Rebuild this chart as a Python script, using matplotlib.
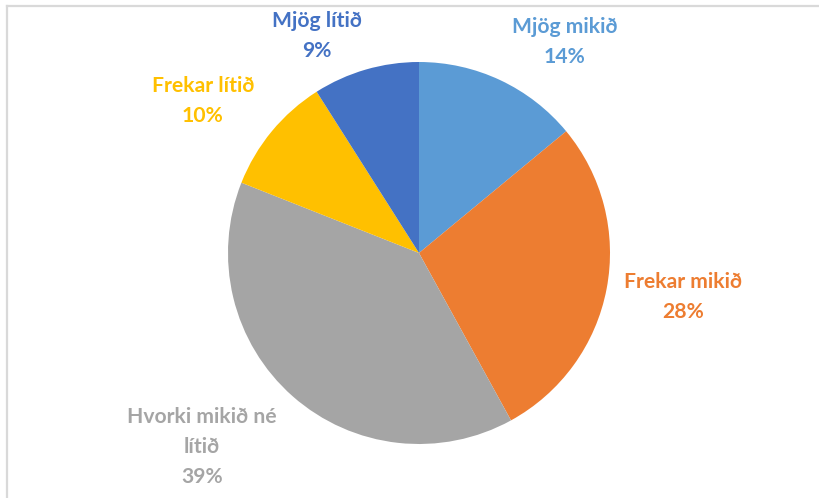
import numpy as np
import matplotlib.pyplot as plt
from matplotlib.lines import Line2D

labels = ["Mjög mikið", "Frekar mikið", "Hvorki mikið né\nlítið", "Frekar lítið", "Mjög lítið"]
values = [14, 28, 39, 10, 9]
colors = ["#5B9BD5", "#ED7D31", "#A5A5A5", "#FFC000", "#4472C4"]

# label centres, in units of pie radius
label_pos = [(0.764, 1.105), (1.382, -0.230), (-1.136, -1.016), (-1.131, 0.796), (-0.534, 1.136)]

W, H = 820, 498
cx, cy, r = 419, 253, 191

fig = plt.figure(figsize=(W / 100, H / 100), dpi=100)
ax = fig.add_axes([0, 0, 1, 1])

ax.pie(values, colors=colors, startangle=90, counterclock=False,
       radius=1, center=(0, 0), frame=False,
       wedgeprops=dict(linewidth=0))

ax.set_xlim(-cx / r, (W - cx) / r)
ax.set_ylim(-(H - cy) / r, cy / r)
ax.set_aspect("auto")
ax.axis("off")

for lab, v, c, (x, y) in zip(labels, values, colors, label_pos):
    ax.text(x, y, f"{lab}\n{v}%", color=c, ha="center", va="center",
            fontsize=15.2, fontweight="bold", family="Lato", linespacing=1.62)

# chart border (top and left visible)
fig.add_artist(Line2D([7 / W, 7 / W], [0, 1 - 6 / H], transform=fig.transFigure,
                      color="#d9d9d9", lw=1.6))
fig.add_artist(Line2D([7 / W, 1], [1 - 6 / H, 1 - 6 / H], transform=fig.transFigure,
                      color="#d9d9d9", lw=1.6))

fig.savefig("out.png", dpi=100)
